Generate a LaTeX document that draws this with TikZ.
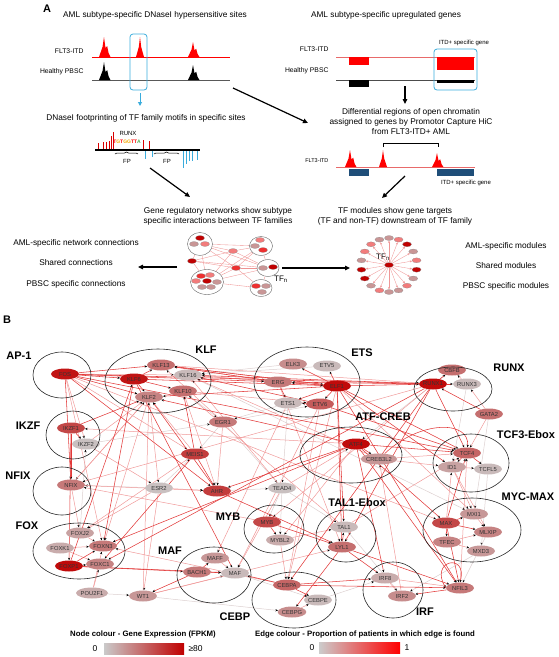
\documentclass[tikz,border=0pt]{standalone}
\usepackage{fontspec}
\setmainfont{Liberation Sans}
\usetikzlibrary{shapes, arrows.meta, positioning, backgrounds, decorations.pathreplacing}
\definecolor{gxlo}{HTML}{CACACA}
\definecolor{gxhi}{HTML}{C00000}
\definecolor{edlo}{HTML}{CCCCCC}
\definecolor{edhi}{HTML}{FF0000}
\definecolor{hsblue}{HTML}{3AACDC}
\definecolor{genebar}{HTML}{1F4E79}
\definecolor{trkred}{HTML}{E86A6A}
\definecolor{eA}{HTML}{E23A3A}
\definecolor{eB}{HTML}{F09A9A}
\definecolor{eC}{HTML}{DCCFCF}
\definecolor{mA}{HTML}{C00000}
\definecolor{mB}{HTML}{EE3030}
\definecolor{mC}{HTML}{F27C7C}
\definecolor{mD}{HTML}{C99696}
\definecolor{motorg}{HTML}{F2A900}
\definecolor{motgrn}{HTML}{4CAF50}

\begin{document}
\begin{tikzpicture}[x=1pt, y=-1pt,
    txt/.style={font=\fontsize{8.3}{10}\selectfont, align=center},
    trk/.style={font=\fontsize{6.8}{6.8}\selectfont, anchor=east},
    sml/.style={font=\fontsize{6}{6}\selectfont, inner sep=1pt},
    pnl/.style={font=\fontsize{11}{11}\selectfont\bfseries},
    big/.style={line width=1.2pt, -{Triangle[length=5pt,width=4.5pt]}},
    hbox/.style={draw=hsblue, line width=0.8pt, rounded corners=3pt},
    mn/.style={ellipse, draw=black!45, line width=0.2pt, fill=#1, inner sep=0pt,
               minimum width=9pt, minimum height=5pt},
    cl/.style={ellipse, draw=black!60, line width=0.4pt, inner sep=0pt},
    mod/.style={draw=trkred!70, line width=0.35pt, -{Stealth[length=2.4pt,width=2pt]}},
    gn/.style={ellipse, fill=gxhi!#1!gxlo, inner sep=0pt, minimum width=28pt,
               minimum height=11pt, font=\fontsize{5.8}{5.8}\selectfont, text=black!80},
    fam/.style={draw=black!85, line width=0.6pt},
    flab/.style={font=\fontsize{11}{11}\selectfont\bfseries},
    ea/.style={draw=eA, line width=0.55pt, -{Stealth[length=2.6pt,width=2.2pt,color=black]}},
    eb/.style={draw=eB, line width=0.5pt, -{Stealth[length=2.6pt,width=2.2pt,color=black]}},
    ec/.style={draw=eC, line width=0.5pt, -{Stealth[length=2.6pt,width=2.2pt,color=black]}},
    lgd/.style={font=\fontsize{7.8}{7.8}\selectfont\bfseries},
    pics/pk/.style={code={\fill (-4,0) -- (-1.2,{-0.5*#1}) -- (0,-#1) -- (1.2,{-0.5*#1}) -- (4,0) -- cycle;}},
    pics/pks/.style={code={\fill (-5,0) -- (-1.5,{-0.5*#1}) -- (0,-#1) -- (1.5,{-0.45*#1})
        -- (3.2,{-0.55*#1}) -- (4.6,{-0.2*#1}) -- (6.5,0) -- cycle;}}
  ]
\useasboundingbox (0,0) rectangle (558,657);

% ---------------- panel A ----------------
\node[pnl] (la) at (47,9) {A};
\node[txt] (t1) at (155,15) {AML subtype-specific DNaseI hypersensitive sites};
\node[trk] (f1) at (87,51) {FLT3-ITD};
\node[trk] (h1) at (87,72) {Healthy PBSC};
\draw[red, line width=0.8pt] (92,57) -- (230,57);
\draw[black!65, line width=0.9pt] (92,80) -- (230,80);
\pic[red] at (104,57) {pks=20};
\pic[red] at (140,57) {pk=20};
\pic[red] at (193,57) {pks=15};
\pic[black] at (104,80) {pks=18};
\pic[black] at (193,80) {pks=15};
\draw[hbox] (130,34) rectangle (147,90);
\coordinate (a1) at (140,93);
\coordinate (a2) at (140,106);
\draw[hsblue, line width=1pt, -{Triangle[length=4pt,width=4pt]}] (a1) -- (a2);
\node[txt] (t2) at (146,118) {DNaseI footprinting of TF family motifs in specific sites};

% footprint
\draw[black, line width=1.3pt] (95,150) -- (200,150);
\foreach \x/\h in {98/6,103/7,106/7,109/8,111/13,113/17,143/9,149/8}
  \draw[red!85!black, line width=0.6pt] (\x,149) -- (\x,{149-\h});
\foreach \x/\h in {145/8,152/6,183/17,186/13,189/10,192/10,197/9}
  \draw[hsblue, line width=0.8pt] (\x,151) -- (\x,{151+\h});
\node[sml] (rx) at (128,133) {RUNX};
\node[font=\fontsize{5}{5}\selectfont\bfseries, inner sep=0pt] (mot) at (127,142)
  {\textcolor{red}{T}\textcolor{motorg}{G}\textcolor{red}{T}\textcolor{motorg}{GG}\textcolor{red}{TT}\textcolor{motgrn}{A}};
\draw[decorate, decoration={brace, amplitude=2pt}, line width=0.5pt] (115,154) -- (138,154);
\node[sml] (fp1) at (127,161) {FP};
\draw[decorate, decoration={brace, amplitude=2pt}, line width=0.5pt] (154,154) -- (179,154);
\node[sml] (fp2) at (167,161) {FP};

% upregulated genes
\node[txt] (t3) at (386,15) {AML subtype-specific upregulated genes};
\node[trk] (f2) at (332,49) {FLT3-ITD};
\node[trk] (h2) at (332,71) {Healthy PBSC};
\node[sml] (itd1) at (464,43) {ITD+ specific gene};
\draw[trkred, line width=0.8pt] (336,57) -- (475,57);
\fill[red] (349,57) rectangle (369,65);
\fill[red] (437,57) rectangle (474,70);
\draw[black!70, line width=0.8pt] (336,80) -- (475,80);
\fill[black] (349,80) rectangle (369,87);
\fill[black] (437,80) rectangle (474,83);
\draw[hbox] (434,49) rectangle (477,90);
\coordinate (b1) at (405,86);
\coordinate (b2) at (405,104);
\draw[big] (b1) -- (b2);
\node[txt] (t4) at (411,122) {Differential regions of open chromatin\\assigned to genes by Promotor Capture HiC\\from FLT3-ITD+ AML};
\draw[line width=0.6pt] (383,147) -- (383,143) -- (438,143) -- (438,147);
\node[trk, font=\fontsize{5.5}{5.5}\selectfont] (f3) at (332,161) {FLT3-ITD};
\draw[trkred, line width=0.8pt] (336,167) -- (475,167);
\pic[red] at (350,167) {pks=17};
\pic[red] at (383,167) {pk=17};
\pic[red] at (437,167) {pks=14};
\fill[genebar] (349,169) rectangle (369,176);
\fill[genebar] (437,169) rectangle (474,176);
\node[sml] (itd2) at (466,183) {ITD+ specific gene};

% flow arrows
\coordinate (c0a) at (233,88);
\coordinate (c0b) at (308,123);
\draw[big] (c0a) -- (c0b);
\coordinate (c1s) at (150,168);
\coordinate (c1e) at (190,197);
\draw[big] (c1s) -- (c1e);
\coordinate (c2s) at (405,176);
\coordinate (c2e) at (382,198);
\draw[big] (c2s) -- (c2e);

\node[txt] (t5) at (218,216) {Gene regulatory networks show subtype\\specific interactions between TF families};
\node[txt] (t6) at (395,216) {TF modules show gene targets\\(TF and non-TF) downstream of TF family};
\node[txt] (l1) at (76,243) {AML-specific network connections};
\node[txt] (l2) at (76,263) {Shared connections};
\node[txt] (l3) at (76,284) {PBSC specific connections};
\node[txt] (r1) at (506,246) {AML-specific modules};
\node[txt] (r2) at (506,266) {Shared modules};
\node[txt] (r3) at (506,286) {PBSC specific modules};

% mini network
\node[cl, minimum width=25pt, minimum height=23pt] (c1) at (200,244) {};
\node[cl, minimum width=23pt, minimum height=19pt] (c2) at (261,246) {};
\node[cl, minimum width=22pt, minimum height=17pt] (c3) at (268,268) {};
\node[cl, minimum width=33pt, minimum height=25pt] (c4) at (207,282) {};
\node[cl, minimum width=22pt, minimum height=17pt] (c5) at (261,288) {};
\node[mn=mA] (c1a) at (200,238) {};
\node[mn=mD] (c1b) at (194,244) {};
\node[mn=mC] (c1c) at (205,244) {};
\node[mn=mC] (c2a) at (260,240) {};
\node[mn=mD] (c2b) at (255,246) {};
\node[mn=mB] (c2c) at (263,250) {};
\node[mn=mD] (c3a) at (263,268) {};
\node[mn=mA] (c3b) at (273,267) {};
\node[mn=mB] (c4a) at (201,276) {};
\node[mn=mC] (c4b) at (210,275) {};
\node[mn=mC] (c4c) at (196,281) {};
\node[mn=mA] (c4d) at (207,281) {};
\node[mn=mD] (c4e) at (217,282) {};
\node[mn=mD] (c4f) at (202,287) {};
\node[mn=mD] (c4g) at (211,287) {};
\node[mn=mB] (c5a) at (256,286) {};
\node[mn=mD] (c5b) at (266,286) {};
\node[mn=mD] (c5c) at (262,292) {};
\node[mn=mC] (s1) at (233,251) {};
\node[mn=mA] (s2) at (192,261) {};
\node[mn=mB] (s3) at (236,268) {};
\node[font=\fontsize{8}{8}\selectfont] (tfa) at (281,279) {TF\textsubscript{n}};
\begin{scope}[on background layer]
  \foreach \src/\dst in {c1/c2,c1/s1,c1/s2,c1/c4,c1/s3,c1/c3,c2/s1,c2/c3,c2/s3,c2/c4,s1/s2,
                         s1/c4,s1/c3,s2/c4,s2/s3,s3/c3,s3/c4,s3/c5,c4/c5,c3/c5,c4/c3,s2/c3}
    \draw[eA!55, line width=0.35pt] (\src) -- (\dst);
\end{scope}
\coordinate (d1s) at (177,267);
\coordinate (d1e) at (138,267);
\draw[big] (d1s) -- (d1e);
\coordinate (d2s) at (282,268);
\coordinate (d2e) at (350,268);
\draw[big] (d2s) -- (d2e);

% module ring
\node[mn=mA] (tfn) at (389,265) {};
\node[font=\fontsize{8}{8}\selectfont] (tfb) at (383,257) {TF\textsubscript{n}};
\foreach \a/\c [count=\i] in {250/mD,270/mD,290/mC,310/mA,330/mD,350/mC,10/mA,30/mD,50/mC,
                              70/mD,90/mD,110/mC,130/mD,150/mA,170/mA,190/mD,210/mC,230/mC}
{
  \node[mn=\c] (m\i) at ({389+28*cos(\a)},{265+27*sin(\a)}) {};
  \draw[mod] (tfn) -- (m\i);
}

% ---------------- panel B ----------------
\node[pnl] (lb) at (7,320) {B};

\node[gn=90] (fos) at (65,374) {FOS};
\node[gn=45] (klf13) at (161,365) {KLF13};
\node[gn=90] (klf6) at (134,379) {KLF6};
\node[gn=8] (klf16) at (188,375) {KLF16};
\node[gn=45] (klf10) at (183,391) {KLF10};
\node[gn=35] (klf2) at (149,397) {KLF2};
\node[gn=65] (ikzf1) at (71,428) {IKZF1};
\node[gn=5] (ikzf2) at (86,444) {IKZF2};
\node[gn=40] (egr1) at (223,422) {EGR1};
\node[gn=70] (meis1) at (195,454) {MEIS1};
\node[gn=40] (nfix) at (71,485) {NFIX};
\node[gn=5] (esr2) at (159,488) {ESR2};
\node[gn=70] (ahr) at (217,491) {AHR};
\node[gn=5] (tead4) at (282,488) {TEAD4};
\node[gn=20] (foxj2) at (80,533) {FOXJ2};
\node[gn=15] (foxk1) at (60,548) {FOXK1};
\node[gn=40] (foxn3) at (103,546) {FOXN3};
\node[gn=95] (foxp1) at (69,566) {FOXP1};
\node[gn=35] (foxc1) at (100,564) {FOXC1};
\node[gn=15] (pou2f1) at (92,593) {POU2F1};
\node[gn=25] (wt1) at (143,596) {WT1};
\node[gn=25] (maff) at (215,558) {MAFF};
\node[gn=40] (bach1) at (197,572) {BACH1};
\node[gn=8] (maf) at (235,573) {MAF};
\node[gn=65] (myb) at (267,522) {MYB};
\node[gn=15] (mybl2) at (280,540) {MYBL2};
\node[gn=50] (cebpa) at (287,585) {CEBPA};
\node[gn=8] (cebpe) at (318,600) {CEBPE};
\node[gn=30] (cebpg) at (292,612) {CEBPG};
\node[gn=8] (tal1) at (344,527) {TAL1};
\node[gn=45] (lyl1) at (342,547) {LYL1};
\node[gn=15] (irf8) at (385,578) {IRF8};
\node[gn=30] (irf2) at (402,596) {IRF2};
\node[gn=40] (nfil3) at (460,588) {NFIL3};
\node[gn=65] (max) at (446,523) {MAX};
\node[gn=25] (mxi1) at (474,514) {MXI1};
\node[gn=35] (mlxip) at (488,532) {MLXIP};
\node[gn=35] (tfec) at (447,542) {TFEC};
\node[gn=25] (mxd3) at (481,551) {MXD3};
\node[gn=50] (tcf4) at (467,453) {TCF4};
\node[gn=20] (id1) at (452,467) {ID1};
\node[gn=8] (tcfl5) at (488,469) {TCFL5};
\node[gn=95] (atf4) at (356,444) {ATF4};
\node[gn=25] (creb) at (379,459) {CREB3L2};
\node[gn=45] (gata2) at (489,414) {GATA2};
\node[gn=95] (runx1) at (433,384) {RUNX1};
\node[gn=45] (cbfb) at (452,370) {CBFB};
\node[gn=8] (runx3) at (467,384) {RUNX3};
\node[gn=30] (elk3) at (293,364) {ELK3};
\node[gn=8] (etv5) at (327,366) {ETV5};
\node[gn=40] (erg) at (278,382) {ERG};
\node[gn=95] (elf1) at (337,386) {ELF1};
\node[gn=8] (ets1) at (288,403) {ETS1};
\node[gn=55] (etv6) at (320,404) {ETV6};

% edges
\begin{scope}[on background layer]
  \foreach \src/\dst in {elk3/klf16,etv5/klf16,ets1/tead4,ets1/egr1,egr1/tead4,esr2/nfix,
      tead4/myb,tead4/mybl2,klf16/mxi1,runx3/id1,cbfb/atf4,tcfl5/mxd3,mxd3/irf2,irf2/tal1,
      foxj2/ikzf2,pou2f1/wt1,maf/cebpe,cebpe/irf8,mlxip/nfil3,klf10/egr1,egr1/meis1,
      ahr/tead4,esr2/meis1,wt1/cebpg,gata2/mxi1,ikzf2/egr1,tead4/tal1,egr1/etv6}
    \draw[ec] (\src) -- (\dst);
  \foreach \src/\dst in {fos/klf16,fos/ikzf2,fos/meis1,fos/foxn3,fos/max,klf13/erg,klf13/elf1,
      klf13/runx1,klf10/etv6,klf10/ahr,klf2/esr2,klf2/foxn3,klf2/nfix,klf16/erg,klf16/elf1,
      ikzf2/klf2,ikzf2/esr2,egr1/klf13,egr1/ahr,esr2/wt1,esr2/foxj2,esr2/ahr,nfix/foxj2,
      nfix/klf2,nfix/ahr,foxj2/foxn3,foxk1/foxc1,foxk1/foxn3,pou2f1/foxc1,pou2f1/foxn3,
      wt1/klf2,wt1/maf,wt1/lyl1,maff/maf,tead4/klf16,tead4/maf,tead4/atf4,mybl2/tal1,
      mybl2/cebpa,cebpg/cebpe,tal1/tcf4,irf8/irf2,irf2/creb,creb/tcf4,creb/klf16,creb/id1,
      id1/tcfl5,id1/mxi1,id1/mlxip,mxi1/mlxip,tfec/mxd3,tfec/mlxip,runx3/cbfb,gata2/tcf4,
      ets1/maff,etv6/maf,etv6/cebpa,erg/lyl1,elf1/mxi1,elf1/cebpa,runx1/myb,runx1/nfix,
      atf4/mybl2,atf4/ikzf1,max/id1,nfil3/tcf4,meis1/foxj2,meis1/klf2,myb/nfix,cebpa/foxn3,
      tal1/klf10,gata2/runx3,irf8/nfil3}
    \draw[eb] (\src) -- (\dst);
  \foreach \src/\dst in {fos/klf6,fos/klf13,fos/klf2,fos/erg,fos/runx1,fos/ahr,fos/tcf4,
      fos/nfix,klf6/klf13,klf6/klf2,klf6/klf10,klf6/elf1,klf6/maf,klf6/foxn3,elf1/erg,
      elf1/elk3,elf1/etv5,elf1/ets1,elf1/etv6,elf1/runx1,elf1/tcf4,elf1/lyl1,elf1/klf13,
      elf1/klf2,elf1/tal1,elf1/id1,elf1/nfil3,runx1/cbfb,runx1/runx3,runx1/klf16,runx1/erg,
      runx1/tcf4,runx1/cebpa,runx1/lyl1,runx1/foxc1,atf4/creb,atf4/tcf4,atf4/foxn3,
      atf4/klf2,atf4/nfil3,atf4/max,atf4/ahr,atf4/irf8,ikzf1/ikzf2,ikzf1/klf2,ikzf1/nfix,
      ikzf1/foxp1,meis1/klf10,meis1/ahr,meis1/foxc1,foxp1/foxc1,foxp1/foxn3,foxp1/klf6,
      foxp1/bach1,foxp1/maf,ahr/klf2,ahr/lyl1,max/mlxip,max/tfec,max/mxi1,max/tcf4,
      lyl1/tal1,lyl1/cebpg,lyl1/irf8,lyl1/nfil3,cebpa/cebpe,cebpa/nfil3,cebpa/irf8,
      cebpa/maf,tcf4/id1,tcf4/tcfl5,etv6/ets1,erg/ets1,erg/klf13,etv6/tcf4,etv6/klf16,
      nfil3/irf2,myb/mybl2,myb/lyl1,bach1/maf,bach1/maff,bach1/wt1,gata2/runx1,max/nfil3}
    \draw[ea] (\src) -- (\dst);
  \draw[ea] (nfil3.west) .. controls (428,560) and (468,552) .. (nfil3.north);
  \draw[ea] (creb) .. controls (420,420) and (470,420) .. (tcf4);
\end{scope}

% TF families
\draw[fam] (62,375) ellipse [x radius=29pt, y radius=23pt];
\draw[fam] (158,381) ellipse [x radius=53pt, y radius=32pt];
\draw[fam] (73,435) ellipse [x radius=27pt, y radius=24pt];
\draw[fam] (62,491) ellipse [x radius=29pt, y radius=24pt];
\draw[fam] (79,551) ellipse [x radius=46pt, y radius=28pt];
\draw[fam] (214,575) ellipse [x radius=37pt, y radius=28pt];
\draw[fam] (274,529) ellipse [x radius=30pt, y radius=24pt];
\draw[fam] (294,600) ellipse [x radius=42pt, y radius=28pt];
\draw[fam] (346,536) ellipse [x radius=30pt, y radius=26pt];
\draw[fam] (393,590) ellipse [x radius=30pt, y radius=28pt];
\draw[fam] (472,530) ellipse [x radius=49pt, y radius=32pt];
\draw[fam] (471,463) ellipse [x radius=38pt, y radius=29pt];
\draw[fam] (351,455) ellipse [x radius=51pt, y radius=28pt];
\draw[fam] (453,389) ellipse [x radius=39pt, y radius=22pt];
\draw[fam] (307,382) ellipse [x radius=53pt, y radius=35pt];
\node[flab] (nap1) at (19,356) {AP-1};
\node[flab] (nklf) at (206,350) {KLF};
\node[flab] (nikzf) at (28,426) {IKZF};
\node[flab] (nnfix) at (18,476) {NFIX};
\node[flab] (nfox) at (27,526) {FOX};
\node[flab] (nmaf) at (170,551) {MAF};
\node[flab] (nmyb) at (228,517) {MYB};
\node[flab] (ncebp) at (235,617) {CEBP};
\node[flab] (ntal) at (357,503) {TAL1-Ebox};
\node[flab] (nirf) at (425,612) {IRF};
\node[flab] (nmyc) at (528,497) {MYC-MAX};
\node[flab] (ntcf) at (526,435) {TCF3-Ebox};
\node[flab] (natf) at (383,417) {ATF-CREB};
\node[flab] (nrunx) at (509,368) {RUNX};
\node[flab] (nets) at (362,353) {ETS};

% legends
\node[lgd] (lg1) at (143,634) {Node colour - Gene Expression (FPKM)};
\shade[left color=gxlo, right color=gxhi] (104,643) rectangle (184,654);
\node[font=\fontsize{8.5}{8.5}\selectfont] (lg1a) at (95,649) {0};
\node[font=\fontsize{8.5}{8.5}\selectfont, anchor=west] (lg1b) at (185,649) {≥80};
\node[lgd] (lg2) at (365,634) {Edge colour - Proportion of patients in which edge is found};
\shade[left color=edlo, right color=edhi] (319,642) rectangle (400,653);
\node[font=\fontsize{8.5}{8.5}\selectfont] (lg2a) at (312,648) {0};
\node[font=\fontsize{8.5}{8.5}\selectfont] (lg2b) at (407,648) {1};
\end{tikzpicture}
\end{document}
